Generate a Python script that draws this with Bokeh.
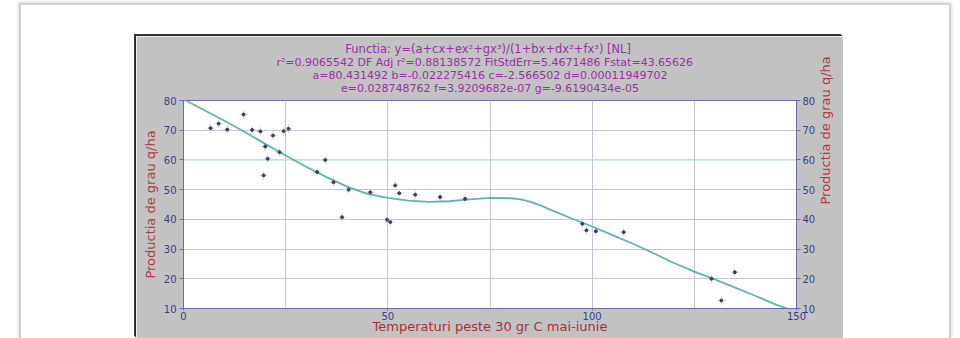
import math
from bokeh.plotting import figure
from bokeh.layouts import column
from bokeh.models import Range1d, LinearAxis, FixedTicker, Span, ColumnDataSource, Title
from bokeh.embed import file_html
from bokeh.resources import INLINE

# ---------------- data ----------------
obs_x = [6.6, 8.6, 10.7, 14.7, 16.8, 18.8, 19.6, 20.0, 20.6, 21.9, 23.5, 24.5, 25.7,
         32.7, 34.7, 36.7, 38.8, 40.4, 45.7, 49.8, 50.6, 51.8, 52.8, 56.7, 62.8, 68.9,
         97.6, 98.6, 100.9, 107.7, 129.2, 131.6, 134.9]
obs_y = [70.7, 72.2, 70.2, 75.3, 70.1, 69.6, 54.8, 64.5, 60.4, 68.2, 62.6, 69.7, 70.5,
         55.9, 60.0, 52.5, 40.7, 50.0, 49.1, 39.9, 39.1, 51.4, 48.8, 48.3, 47.5, 46.9,
         38.5, 36.3, 36.0, 35.7, 20.0, 12.7, 22.2]

fit_x = [0, 5, 10, 15, 20, 25, 30, 35, 40, 45, 50, 55, 60, 65, 70, 75, 80, 82.5, 85,
         87.5, 90, 95, 100, 105, 110, 115, 120, 125, 130, 135, 140, 145, 148]
fit_y = [80.4, 76.8, 73.2, 69.4, 65.4, 61.5, 57.7, 54.2, 51.0, 48.6, 47.2, 46.3, 45.9,
         46.1, 46.7, 47.2, 47.1, 46.7, 45.9, 44.6, 43.1, 40.3, 37.6, 34.7, 31.8, 28.6,
         25.3, 22.4, 19.8, 17.0, 14.2, 11.3, 9.8]

x_ticks = [0, 50, 100, 150]
x_grid_ticks = [25, 50, 75, 100, 125]
y_ticks = [10, 20, 30, 40, 50, 60, 70, 80]
y_grid_ticks = [20, 30, 40, 50, 70]
ref_line_y = 60

title_lines = [
    "Functia:  y=(a+cx+ex\u00b2+gx\u00b3)/(1+bx+dx\u00b2+fx\u00b3) [NL]",
    "r\u00b2=0.9065542  DF Adj r\u00b2=0.88138572  FitStdErr=5.4671486  Fstat=43.65626",
    "a=80.431492 b=-0.022275416 c=-2.566502 d=0.00011949702",
    "e=0.028748762 f=3.9209682e-07 g=-9.6190434e-05",
]
y_label = "Productia de grau q/ha"
x_label = "Temperaturi peste 30 gr C mai-iunie"

# ---------------- layout ----------------
FONT = "DejaVu Sans"
PANEL = "#c2c2c2"
PW, PH = 707, 302                 # grey panel (the figure)
FL, FR, FT, FB = 47, 661, 64, 272  # frame edges inside the panel
TITLE_COL = "#9a30a6"

p = figure(width=PW, height=PH, output_backend="svg", toolbar_location=None,
           x_range=Range1d(0, 150), y_range=Range1d(10, 80),
           min_border_left=FL, min_border_right=PW - FR,
           min_border_top=FT, min_border_bottom=PH - FB,
           margin=(31, 0, 0, 115),
           styles={"box-shadow": "-1px -1px 0 #262626, -2px -2px 0 #3a3a3a"})
p.border_fill_color = PANEL
p.background_fill_color = "white"
p.outline_line_color = "#6a6aaa"
p.outline_line_width = 1


def style_title(t, standoff, size="11px"):
    t.align = "center"
    t.text_color = TITLE_COL
    t.text_font = FONT
    t.text_font_size = size
    t.text_font_style = "normal"
    t.text_line_height = 1.0
    t.standoff = standoff


# spacer (panel-coloured) between the frame and the last title line
spacer = Title(text=".")
style_title(spacer, 0, "5.5px")
spacer.text_color = PANEL
p.add_layout(spacer, "above")

# title lines: added from the frame outward, main title outermost
for txt in reversed(title_lines[1:]):
    t = Title(text=txt)
    style_title(t, -2)
    p.add_layout(t, "above")
p.title.text = title_lines[0]
style_title(p.title, -2, "11.5px")

# grids
p.xgrid.ticker = FixedTicker(ticks=x_grid_ticks)
p.ygrid.ticker = FixedTicker(ticks=y_grid_ticks)
for g in (p.xgrid, p.ygrid):
    g.grid_line_color = "#c4c4d6"
    g.grid_line_width = 1
p.add_layout(Span(location=ref_line_y, dimension="width", line_color="#a8dcd4",
                  line_width=1.2, level="underlay"))

# axes
tick_col = "#3c3c8c"
axis_col = "#6a6aaa"
lab_col = "#b23a44"
p.xaxis.ticker = FixedTicker(ticks=x_ticks)
p.yaxis.ticker = FixedTicker(ticks=y_ticks)
right_axis = LinearAxis(ticker=FixedTicker(ticks=y_ticks))
p.add_layout(right_axis, "right")
for ax in (p.xaxis[0], p.yaxis[0], right_axis):
    ax.axis_line_color = axis_col
    ax.major_tick_line_color = axis_col
    ax.minor_tick_line_color = None
    ax.major_tick_in = 0
    ax.major_label_text_color = tick_col
    ax.major_label_text_font = FONT
    ax.major_label_text_font_size = "10px"
    ax.axis_label_text_color = lab_col
    ax.axis_label_text_font = FONT
    ax.axis_label_text_font_size = "13px"
    ax.axis_label_text_font_style = "normal"
p.yaxis[0].major_tick_out = 4
p.yaxis[0].major_label_standoff = 3
p.yaxis[0].axis_label = y_label
p.yaxis[0].axis_label_standoff = 3
right_axis.major_tick_out = 4
right_axis.major_label_standoff = 2
right_axis.axis_label = y_label
right_axis.axis_label_standoff = 7
if "axis_label_orientation" in right_axis.properties():
    right_axis.axis_label_orientation = math.pi / 2
p.xaxis[0].major_tick_out = 2
p.xaxis[0].major_label_standoff = 1
p.xaxis[0].axis_label = x_label
p.xaxis[0].axis_label_standoff = -4
p.xaxis[0].axis_label_text_color = "#a8303a"

# data
src_obs = ColumnDataSource(dict(x=obs_x, y=obs_y))
src_fit = ColumnDataSource(dict(x=fit_x, y=fit_y))
p.scatter("x", "y", source=src_obs, marker="cross", size=9, line_color="#d8d8e2",
          line_width=1)
p.line("x", "y", source=src_fit, line_color="#62b2ae", line_width=1.8)
p.scatter("x", "y", source=src_obs, marker="circle", size=3, fill_color="#3e3e5a",
          line_color="#3e3e5a")

card = column(p, width=932, height=335, margin=(3, 0, 0, 19),
              styles={"border-top": "2px solid #d4d4d4",
                      "border-left": "2px solid #cfcfcf",
                      "border-right": "2px solid #d2d2d2",
                      "box-shadow": "0 0 4px #c8c8c8",
                      "background": "white"})

open("out.html", "w").write(file_html(card, INLINE))
